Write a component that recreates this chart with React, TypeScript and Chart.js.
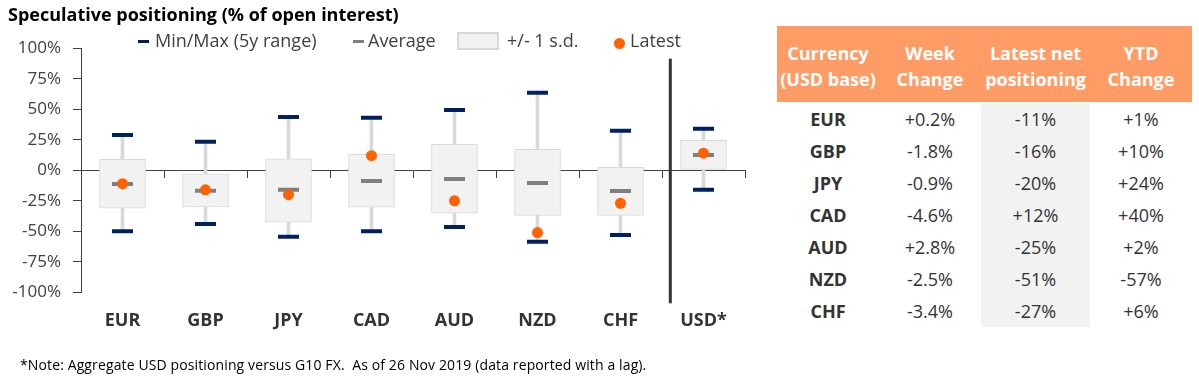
import React, { useEffect, useRef } from 'react';
import { Chart, registerables } from 'chart.js';

Chart.register(...registerables);

// ---------- Data ----------
const categories = ['EUR', 'GBP', 'JPY', 'CAD', 'AUD', 'NZD', 'CHF', 'USD*'];
const minValues = [-50, -44, -54.5, -50, -46.5, -58.5, -53, -16];
const maxValues = [29, 23.5, 43.7, 43, 49.4, 63.6, 32.5, 34];
const sdLow = [-31, -30, -42.6, -30.3, -35.2, -36.9, -36.9, 0.8];
const sdHigh = [9, -2.8, 9.5, 13.1, 21.3, 17.2, 2.5, 24.6];
const averages = [-11.2, -16.7, -16, -8.8, -7.1, -10.4, -17, 12.5];
const latest = [-11, -16, -20, 12, -25, -51, -27, 14];

const yTickMin = -100;
const yTickMax = 100;
const yTickStep = 25;

const tableHeaders = [
  ['Currency', '(USD base)'],
  ['Week', 'Change'],
  ['Latest net', 'positioning'],
  ['YTD', 'Change'],
];
const tableCurrencies = ['EUR', 'GBP', 'JPY', 'CAD', 'AUD', 'NZD', 'CHF'];
const weekChange = ['+0.2%', '-1.8%', '-0.9%', '-4.6%', '+2.8%', '-2.5%', '-3.4%'];
const latestNet = ['-11%', '-16%', '-20%', '+12%', '-25%', '-51%', '-27%'];
const ytdChange = ['+1%', '+10%', '+24%', '+40%', '+2%', '-57%', '+6%'];

const titleText = 'Speculative positioning (% of open interest)';
const noteText = '*Note: Aggregate USD positioning versus G10 FX.  As of 26 Nov 2019 (data reported with a lag).';

// ---------- Styles ----------
const NAVY = '#002060';
const ORANGE = '#ff6200';
const AVG_GREY = '#7f7f7f';
const BOX_FILL = '#f2f2f2';
const BOX_BORDER = '#d9d9d9';
const AXIS = '#404040';
const FONT = "'Open Sans', sans-serif";

const CANVAS_W = 760;
const CANVAS_H = 378;
const dividerValue = 6.6; // between CHF and USD*
const dividerTopValue = 91.5;

export default function App() {
  const ref = useRef<HTMLCanvasElement>(null);

  useEffect(() => {
    const canvas = ref.current;
    if (!canvas) return;
    Chart.defaults.font.family = FONT;

    const dividerPlugin = {
      id: 'divider',
      afterDraw(chart: any) {
        const { ctx, chartArea } = chart;
        const x = chart.scales.x;
        const y = chart.scales.y;
        const px = x.getPixelForValue(dividerValue);
        ctx.save();
        ctx.strokeStyle = '#333333';
        ctx.lineWidth = 3;
        ctx.beginPath();
        ctx.moveTo(px, y.getPixelForValue(dividerTopValue));
        ctx.lineTo(px, chartArea.bottom + 11);
        ctx.stroke();
        ctx.restore();
      },
    };

    const pointCommon = {
      type: 'line' as const,
      showLine: false,
      xAxisID: 'x',
      yAxisID: 'y',
    };

    const chart = new Chart(canvas, {
      type: 'bar',
      data: {
        labels: categories,
        datasets: [
          {
            type: 'bar',
            label: 'range',
            data: categories.map((_, i) => [minValues[i], maxValues[i]]) as any,
            backgroundColor: BOX_BORDER,
            barThickness: 3,
            grouped: false,
            order: 6,
            xAxisID: 'x',
            yAxisID: 'y',
          },
          {
            type: 'bar',
            label: '+/- 1 s.d.',
            data: categories.map((_, i) => [sdLow[i], sdHigh[i]]) as any,
            backgroundColor: BOX_FILL,
            borderColor: BOX_BORDER,
            borderWidth: 1,
            borderSkipped: false,
            barThickness: 46,
            grouped: false,
            order: 5,
            xAxisID: 'x',
            yAxisID: 'y',
          },
          {
            ...pointCommon,
            label: 'Max',
            data: maxValues,
            pointStyle: 'line',
            pointRadius: 10.5,
            pointHoverRadius: 10.5,
            pointBorderWidth: 4,
            borderColor: NAVY,
            backgroundColor: NAVY,
            order: 4,
          },
          {
            ...pointCommon,
            label: 'Min',
            data: minValues,
            pointStyle: 'line',
            pointRadius: 10.5,
            pointHoverRadius: 10.5,
            pointBorderWidth: 4,
            borderColor: NAVY,
            backgroundColor: NAVY,
            order: 3,
          },
          {
            ...pointCommon,
            label: 'Average',
            data: averages,
            pointStyle: 'line',
            pointRadius: 10.5,
            pointHoverRadius: 10.5,
            pointBorderWidth: 4,
            borderColor: AVG_GREY,
            backgroundColor: AVG_GREY,
            order: 2,
          },
          {
            ...pointCommon,
            label: 'Latest',
            data: latest,
            pointStyle: 'circle',
            pointRadius: 5.5,
            pointHoverRadius: 5.5,
            pointBorderWidth: 0,
            borderColor: ORANGE,
            backgroundColor: ORANGE,
            order: 1,
          },
        ] as any,
      },
      options: {
        animation: false,
        responsive: false,
        events: [],
        layout: { padding: { left: 0, right: 15, top: 48.3, bottom: 0 } },
        plugins: {
          legend: { display: false },
          tooltip: { enabled: false },
        },
        scales: {
          x: {
            type: 'category',
            position: 'bottom',
            offset: true,
            grid: { display: false, drawTicks: false },
            border: { display: false },
            ticks: {
              color: '#333333',
              font: { family: FONT, size: 18, weight: 'bold' },
              padding: 18,
              maxRotation: 0,
              autoSkip: false,
            },
            afterFit: (s: any) => {
              s.height = 85.7;
              s.paddingLeft = 0;
              s.paddingRight = 0;
            },
          },
          x0: {
            type: 'category',
            axis: 'x',
            position: { y: 0 },
            offset: true,
            grid: {
              offset: true,
              drawOnChartArea: false,
              drawTicks: true,
              tickLength: 7,
              color: AXIS,
              lineWidth: 1,
            },
            border: { display: true, color: AXIS, width: 1 },
            ticks: { display: false },
            afterFit: (s: any) => {
              s.paddingLeft = 0;
              s.paddingRight = 0;
            },
          },
          y: {
            type: 'linear',
            min: yTickMin,
            max: yTickMax,
            grid: {
              drawOnChartArea: false,
              drawTicks: true,
              tickLength: 8,
              color: AXIS,
            },
            border: { display: true, color: AXIS, width: 1 },
            ticks: {
              stepSize: yTickStep,
              color: AXIS,
              font: { family: FONT, size: 17 },
              padding: 12,
              callback: (v: any) => `${v}%`,
            },
            afterFit: (s: any) => {
              s.width = 81;
              s.paddingTop = 0;
              s.paddingBottom = 0;
            },
          },
        } as any,
      },
      plugins: [dividerPlugin],
    });

    return () => chart.destroy();
  }, []);

  const legendText: React.CSSProperties = {
    position: 'absolute',
    top: 30.7,
    fontSize: 18,
    lineHeight: '18px',
    color: AXIS,
    whiteSpace: 'nowrap',
  };

  const colWidths = [102, 102, 109, 102];

  return (
    <div
      style={{
        position: 'absolute',
        left: 0,
        top: 0,
        width: 1199,
        height: 378,
        background: '#ffffff',
        fontFamily: FONT,
        overflow: 'hidden',
      }}
    >
      <canvas
        ref={ref}
        width={CANVAS_W}
        height={CANVAS_H}
        style={{ position: 'absolute', left: 0, top: 0, width: CANVAS_W, height: CANVAS_H }}
      />

      {/* Title */}
      <div
        style={{
          position: 'absolute',
          left: 8,
          top: 2,
          fontSize: 18,
          lineHeight: '24px',
          fontWeight: 700,
          color: '#000',
          whiteSpace: 'nowrap',
        }}
      >
        {titleText}
      </div>

      {/* Legend */}
      <div style={{ position: 'absolute', left: 138, top: 40, width: 11, height: 3, background: NAVY }} />
      <div style={{ ...legendText, left: 155 }}>Min/Max (5y range)</div>
      <div style={{ position: 'absolute', left: 353, top: 40, width: 11, height: 3, background: AVG_GREY }} />
      <div style={{ ...legendText, left: 368 }}>Average</div>
      <div
        style={{
          position: 'absolute',
          left: 457,
          top: 32,
          width: 42,
          height: 18,
          boxSizing: 'border-box',
          background: BOX_FILL,
          border: `2px solid ${BOX_BORDER}`,
        }}
      />
      <div style={{ ...legendText, left: 507 }}>+/- 1 s.d.</div>
      <div
        style={{
          position: 'absolute',
          left: 614,
          top: 37.5,
          width: 11,
          height: 11,
          borderRadius: '50%',
          background: ORANGE,
        }}
      />
      <div style={{ ...legendText, left: 630 }}>Latest</div>

      {/* Table */}
      <div style={{ position: 'absolute', left: 777, top: 26, width: 415 }}>
        <div
          style={{
            display: 'grid',
            gridTemplateColumns: colWidths.map((w) => `${w}px`).join(' '),
            background: '#ff9c66',
            height: 76,
            boxSizing: 'border-box',
            paddingTop: 3,
            alignItems: 'center',
            color: '#ffffff',
            fontWeight: 700,
            fontSize: 18,
            lineHeight: '26px',
            textAlign: 'center',
          }}
        >
          {tableHeaders.map((h, i) => (
            <div key={i} style={{ whiteSpace: 'nowrap' }}>
              {h[0]}
              <br />
              {h[1]}
            </div>
          ))}
        </div>
        <div style={{ height: 1 }} />
        {tableCurrencies.map((cur, r) => (
          <div
            key={cur}
            style={{
              display: 'grid',
              gridTemplateColumns: colWidths.map((w) => `${w}px`).join(' '),
              height: 32,
              lineHeight: '32px',
              fontSize: 18,
              color: '#333333',
              textAlign: 'center',
            }}
          >
            <div style={{ fontWeight: 700 }}>{cur}</div>
            <div>{weekChange[r]}</div>
            <div style={{ background: BOX_FILL }}>{latestNet[r]}</div>
            <div>{ytdChange[r]}</div>
          </div>
        ))}
      </div>

      {/* Footnote */}
      <div
        style={{
          position: 'absolute',
          left: 20,
          top: 355,
          fontSize: 14,
          letterSpacing: '0.12px',
          lineHeight: '20px',
          color: '#000',
          whiteSpace: 'pre',
        }}
      >
        {noteText}
      </div>
    </div>
  );
}
